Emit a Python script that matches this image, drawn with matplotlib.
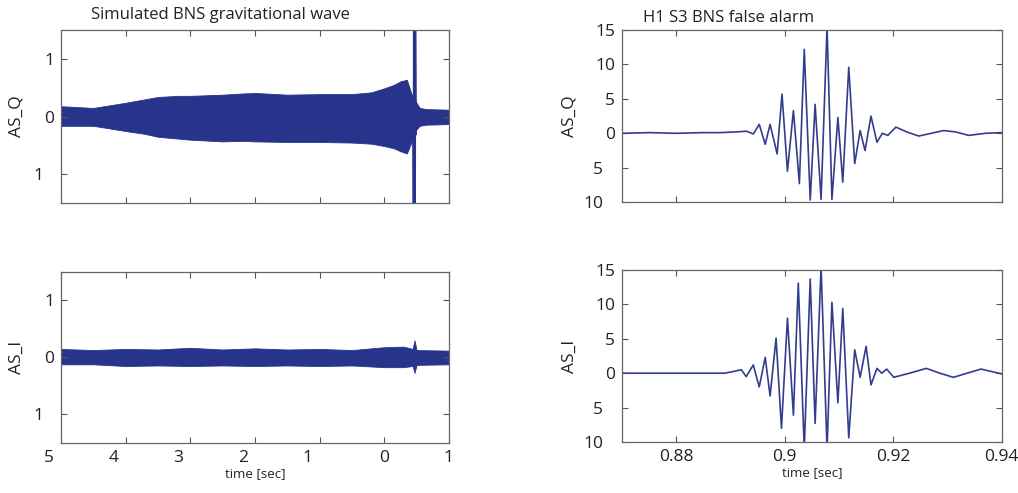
import matplotlib
matplotlib.use('Agg')
import matplotlib.pyplot as plt
from matplotlib.transforms import ScaledTranslation

plt.rcParams['font.family'] = ['Open Sans', 'DejaVu Sans']

# --- left: simulated BNS wave, envelope of the dense signal
q_env_t = [-5, -4.5, -4.0, -3.7, -3.5, -3.2, -3.0, -2.5, -2.2, -2.0, -1.5, -1.0,
           -0.5, -0.2, 0.0, 0.15, 0.25, 0.35, 0.42, 0.44, 0.50, 0.55, 0.65, 1.0]
q_upper = [0.18, 0.15, 0.24, 0.30, 0.34, 0.36, 0.36, 0.38, 0.40, 0.41, 0.38, 0.39,
           0.39, 0.42, 0.49, 0.55, 0.61, 0.64, 0.40, 0.35, 0.24, 0.15, 0.13, 0.12]
q_lower = [-0.16, -0.16, -0.25, -0.30, -0.35, -0.38, -0.40, -0.43, -0.42, -0.43, -0.44, -0.44,
           -0.45, -0.47, -0.51, -0.55, -0.60, -0.64, -0.45, -0.40, -0.22, -0.16, -0.14, -0.13]
q_spike_t = [0.455, 0.462, 0.466, 0.470, 0.474, 0.478, 0.484]
q_spike_v = [0.3, -1.6, 1.6, -1.6, 1.6, 0.9, -0.3]

i_env_t = [-5, -4.5, -4.0, -3.5, -3.0, -2.5, -2.0, -1.5, -1.0, -0.5, 0.0, 0.3, 0.44, 0.47, 0.5, 1.0]
i_upper = [0.15, 0.13, 0.15, 0.14, 0.17, 0.14, 0.16, 0.14, 0.15, 0.13, 0.18, 0.19, 0.15, 0.30, 0.13, 0.12]
i_lower = [-0.12, -0.12, -0.15, -0.14, -0.15, -0.14, -0.15, -0.14, -0.15, -0.14, -0.17, -0.17, -0.15, -0.27, -0.13, -0.12]

# --- right: H1 S3 false alarm, extrema
q_t = [0.870, 0.875, 0.880, 0.885, 0.888, 0.891, 0.8930, 0.8942, 0.8953, 0.8964, 0.8973,
       0.8986, 0.8995, 0.9005, 0.9016, 0.9027, 0.9036, 0.9047, 0.9056, 0.9067, 0.9078,
       0.9087, 0.9098, 0.9107, 0.9118, 0.9129, 0.9139, 0.9148, 0.9159, 0.9170, 0.9180,
       0.9190, 0.9205, 0.9225, 0.9247, 0.9270, 0.9293, 0.9315, 0.9339, 0.9370, 0.940]
q_v = [0.0, 0.1, 0.0, 0.1, 0.1, 0.2, 0.3, -0.1, 1.3, -1.6, 1.3,
       -3.0, 5.7, -5.5, 3.3, -7.3, 12.2, -9.7, 4.2, -9.6, 15.5,
       -9.6, 2.3, -7.1, 9.6, -4.4, 0.4, -2.5, 2.5, -1.3, 0.0,
       -0.3, 0.9, 0.2, -0.4, 0.0, 0.4, 0.2, -0.3, 0.0, 0.1]

i_t = [0.870, 0.875, 0.880, 0.885, 0.889, 0.8920, 0.8929, 0.8942, 0.8953, 0.8964, 0.8973,
       0.8984, 0.8994, 0.9005, 0.9016, 0.9025, 0.9036, 0.9047, 0.9056, 0.9067, 0.9078,
       0.9087, 0.9098, 0.9107, 0.9118, 0.9129, 0.9139, 0.9150, 0.9159, 0.9170, 0.9179,
       0.9188, 0.9201, 0.9230, 0.9261, 0.9286, 0.9311, 0.9336, 0.9362, 0.940]
i_v = [0.0, 0.0, 0.0, 0.0, 0.0, 0.5, -0.5, 1.2, -2.0, 2.3, -3.3,
       5.1, -8.0, 8.0, -6.1, 13.1, -11.0, 13.7, -7.3, 15.5, -11.0,
       10.3, -4.3, 9.4, -9.4, 3.4, -0.6, 3.9, -1.7, 0.7, 0.0,
       0.6, -0.6, 0.0, 0.7, 0.0, -0.6, 0.0, 0.6, -0.1]

left_xticks = [-5, -4, -3, -2, -1, 0, 1]
left_xlabels = ['5', '4', '3', '2', '1', '0', '1']
left_yticks = [1, 0, -1]
left_ylabels = ['1', '0', '1']
right_xticks = [0.88, 0.9, 0.92, 0.94]
right_xlabels = ['0.88', '0.9', '0.92', '0.94']
right_yticks = [15, 10, 5, 0, -5, -10]
right_ylabels = ['15', '10', '5', '0', '5', '10']

blue = '#28338c'
line_blue = '#333d8e'

fig = plt.figure(figsize=(10.18, 4.93), dpi=100)
ax_lq = fig.add_axes([0.0599, 0.588, 0.381, 0.351])
ax_li = fig.add_axes([0.0599, 0.1014, 0.381, 0.347])
ax_rq = fig.add_axes([0.611, 0.590, 0.373, 0.349])
ax_ri = fig.add_axes([0.611, 0.1034, 0.373, 0.349])


def shift(labels, dx_px):
    for lab in labels:
        lab.set_transform(lab.get_transform() + ScaledTranslation(dx_px / 100, 0, fig.dpi_scale_trans))


def style(ax, xt, xl, yt, yl, bottom_labels):
    ax.set_xticks(xt)
    ax.set_yticks(yt)
    ax.set_yticklabels(yl)
    if bottom_labels:
        ax.set_xticklabels(xl)
    else:
        ax.set_xticklabels([])
    ax.tick_params(direction='in', top=True, right=True, length=4, width=0.8,
                   color='#555555', labelsize=12.5, labelcolor='#222222', pad=5)
    for s in ax.spines.values():
        s.set_color('#666666')
        s.set_linewidth(0.9)


# left panels
ax_lq.fill_between(q_env_t, q_lower, q_upper, color=blue, lw=0.6, edgecolor=blue)
ax_lq.plot(q_spike_t, q_spike_v, color=blue, lw=2)
ax_lq.set_xlim(-5, 1)
ax_lq.set_ylim(-1.5, 1.5)
style(ax_lq, left_xticks, left_xlabels, left_yticks, left_ylabels, False)
ax_lq.set_ylabel('AS_Q', fontsize=12.5, color='#222222', labelpad=6)
ax_lq.set_title('Simulated BNS gravitational wave', fontsize=12, x=0.41, pad=8, color='#222222')

ax_li.fill_between(i_env_t, i_lower, i_upper, color=blue, lw=0.6, edgecolor=blue)
ax_li.set_xlim(-5, 1)
ax_li.set_ylim(-1.5, 1.5)
style(ax_li, left_xticks, left_xlabels, left_yticks, left_ylabels, True)
ax_li.set_ylabel('AS_I', fontsize=12.5, color='#222222', labelpad=6)
ax_li.set_xlabel('time [sec]', fontsize=9.5, color='#222222', labelpad=1)

shift(ax_lq.get_yticklabels()[2:], -11)
shift(ax_li.get_yticklabels()[2:], -11)
shift(ax_li.get_xticklabels()[:5], -12)

# right panels
ax_rq.plot(q_t, q_v, color=line_blue, lw=1.2)
ax_rq.set_xlim(0.87, 0.94)
ax_rq.set_ylim(-10, 15)
style(ax_rq, right_xticks, right_xlabels, right_yticks, right_ylabels, False)
ax_rq.set_ylabel('AS_Q', fontsize=12.5, color='#222222', labelpad=4)
ax_rq.set_title('H1 S3 BNS false alarm', fontsize=12, x=0.28, pad=6, color='#222222')

ax_ri.plot(i_t, i_v, color=line_blue, lw=1.2)
ax_ri.set_xlim(0.87, 0.94)
ax_ri.set_ylim(-10, 15)
style(ax_ri, right_xticks, right_xlabels, right_yticks, right_ylabels, True)
ax_ri.set_ylabel('AS_I', fontsize=12.5, color='#222222', labelpad=4)
ax_ri.set_xlabel('time [sec]', fontsize=9.5, color='#222222', labelpad=1)

shift(ax_rq.get_yticklabels()[4:], -12)
shift(ax_ri.get_yticklabels()[4:], -12)

fig.savefig('out.png', dpi=100)
